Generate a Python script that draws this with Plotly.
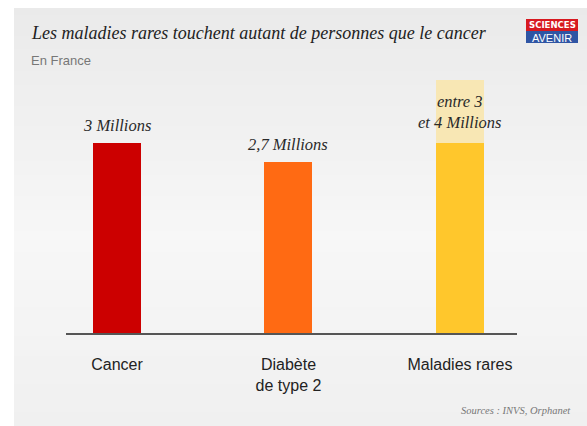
import plotly.graph_objects as go

categories = ["Cancer", "Diabète<br>de type 2", "Maladies rares"]
values_low = [3.0, 2.7, 3.0]
values_high = [3.0, 2.7, 4.0]
bar_labels = ["3 Millions", "2,7 Millions", "entre 3<br>et 4 Millions"]
colors = ["#cc0000", "#ff6a13", "#ffc72c"]
range_color = "#f8e7b4"

W, H = 587, 426
def px(x):
    return x / W
def py(y):
    return 1 - y / H

extra = [h - l for h, l in zip(values_high, values_low)]

fig = go.Figure()
fig.add_trace(go.Bar(x=categories, y=values_low, marker=dict(color=colors, line=dict(width=0)),
                     width=0.28, hoverinfo="skip"))
fig.add_trace(go.Bar(x=categories, y=extra, marker=dict(color=range_color, line=dict(width=0)),
                     width=0.28, hoverinfo="skip"))

shapes = []
# background gradient panel (smooth vertical gradient)
def grad(t):
    if t < 0.55:
        v = 234 + (247 - 234) * (t / 0.55)
    else:
        v = 247 - (247 - 240) * ((t - 0.55) / 0.45)
    v = int(round(v))
    return f"rgb({v},{v},{v})"

top = 8
n = 60
for i in range(n):
    y0 = top + (H - top) * i / n
    y1 = top + (H - top) * (i + 1) / n + 0.8
    shapes.append(dict(type="rect", xref="paper", yref="paper", x0=px(14), x1=1.0,
                       y0=py(min(y1, H)), y1=py(y0), fillcolor=grad((i + 0.5) / n),
                       line=dict(width=0), layer="below"))
# logo
shapes.append(dict(type="rect", xref="paper", yref="paper", x0=px(526), x1=px(578), y0=py(31), y1=py(19),
                   fillcolor="#d71920", line=dict(width=0)))
shapes.append(dict(type="rect", xref="paper", yref="paper", x0=px(526), x1=px(578), y0=py(43), y1=py(31),
                   fillcolor="#2f55a4", line=dict(width=0)))

annotations = []
serif = "Liberation Serif"
annotations.append(dict(text="Les maladies rares touchent autant de personnes que le cancer",
                        xref="paper", yref="paper", x=px(29), y=py(33), xanchor="left", yanchor="middle",
                        showarrow=False, font=dict(family=serif, size=18, color="#222222", style="italic")))
annotations.append(dict(text="En France", xref="paper", yref="paper", x=px(29), y=py(60),
                        xanchor="left", yanchor="middle", showarrow=False,
                        font=dict(family="Liberation Sans", size=13, color="#777777")))
annotations.append(dict(text="<b>SCIENCES</b>", xref="paper", yref="paper", x=px(552), y=py(25),
                        xanchor="center", yanchor="middle", showarrow=False,
                        font=dict(family="DejaVu Sans Condensed, Liberation Sans Narrow, Liberation Sans",
                                  size=9.5, color="white")))
annotations.append(dict(text="AVENIR", xref="paper", yref="paper", x=px(552), y=py(37.5),
                        xanchor="center", yanchor="middle", showarrow=False,
                        font=dict(family="Liberation Sans", size=11, color="white")))
annotations.append(dict(text="Sources : INVS, Orphanet", xref="paper", yref="paper", x=px(573), y=py(410),
                        xanchor="right", yanchor="middle", showarrow=False,
                        font=dict(family=serif, size=10.5, color="#777777", style="italic")))

# value labels
for i, (cat, hi, lab) in enumerate(zip(categories, values_high, bar_labels)):
    if i == 2:
        annotations.append(dict(text=lab, x=cat, y=hi, xref="x", yref="y", yanchor="top", yshift=-10,
                                showarrow=False, align="center",
                                font=dict(family=serif, size=16.5, color="#2a2a2a", style="italic")))
    else:
        annotations.append(dict(text=lab, x=cat, y=hi, xref="x", yref="y", yanchor="bottom", yshift=6,
                                showarrow=False,
                                font=dict(family=serif, size=16.5, color="#2a2a2a", style="italic")))

fig.update_layout(
    width=W, height=H, margin=dict(l=0, r=0, t=0, b=0),
    paper_bgcolor="white", plot_bgcolor="rgba(0,0,0,0)",
    barmode="stack", showlegend=False,
    shapes=shapes, annotations=annotations,
    xaxis=dict(domain=[0.1116, 0.88], range=[-0.3, 2.33], showline=True, linecolor="#555555", linewidth=1.5,
               showgrid=False, zeroline=False, ticks="", ticklabelstandoff=16,
               tickfont=dict(family="Liberation Sans", size=16, color="#222222")),
    yaxis=dict(domain=[0.2183, 0.8864], range=[0, 4.5], visible=False, showgrid=False, zeroline=False),
)

fig.write_html("out.html", config={"displayModeBar": False},
               post_script="document.body.style.margin='0';document.body.style.padding='0';")
